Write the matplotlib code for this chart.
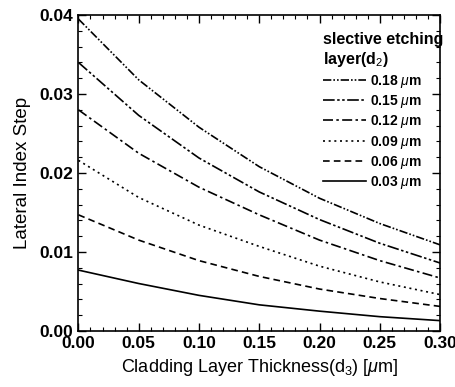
import matplotlib
matplotlib.use("Agg")
import matplotlib.pyplot as plt
from matplotlib.ticker import MultipleLocator

plt.rcParams["font.family"] = ["Liberation Sans", "DejaVu Sans"]
plt.rcParams["mathtext.fontset"] = "custom"
plt.rcParams["mathtext.rm"] = "Liberation Sans"
plt.rcParams["mathtext.it"] = "Liberation Sans:italic"

# Dados
x = [0.00, 0.05, 0.10, 0.15, 0.20, 0.25, 0.30]
d2_labels = ["0.18", "0.15", "0.12", "0.09", "0.06", "0.03"]
y_018 = [0.0395, 0.0318, 0.0258, 0.0208, 0.0168, 0.0136, 0.0109]
y_015 = [0.0340, 0.0273, 0.0219, 0.0176, 0.0141, 0.0111, 0.0086]
y_012 = [0.0280, 0.0225, 0.0182, 0.0147, 0.0115, 0.0089, 0.0067]
y_009 = [0.0216, 0.0169, 0.0134, 0.0107, 0.0082, 0.0062, 0.0046]
y_006 = [0.0147, 0.0115, 0.0089, 0.0069, 0.0053, 0.0041, 0.0031]
y_003 = [0.0077, 0.0060, 0.0045, 0.0033, 0.0025, 0.0018, 0.0013]
series = [y_018, y_015, y_012, y_009, y_006, y_003]

estilos = [
    (0, (5, 1.2, 1, 1.2, 1, 1.2)),
    (0, (7, 1.5, 1.5, 1.5, 1.5, 1.5)),
    (0, (6, 2, 1.5, 2)),
    (0, (1.2, 2.2)),
    (0, (4, 2.5)),
    "-",
]

fig = plt.figure(figsize=(4.56, 3.87), dpi=100)
ax = fig.add_axes([0.172, 0.145, 0.793, 0.816])

for yv, lab, ls in zip(series, d2_labels, estilos):
    ax.plot(x, yv, color="black", lw=1.2, linestyle=ls,
            label=lab + r" $\mu$m")

ax.set_xlim(0, 0.30)
ax.set_ylim(0, 0.04)
ax.xaxis.set_major_locator(MultipleLocator(0.05))
ax.xaxis.set_minor_locator(MultipleLocator(0.01))
ax.yaxis.set_major_locator(MultipleLocator(0.01))
ax.yaxis.set_minor_locator(MultipleLocator(0.002))
ax.xaxis.set_major_formatter(plt.FuncFormatter(lambda v, p: f"{v:.2f}"))
ax.yaxis.set_major_formatter(plt.FuncFormatter(lambda v, p: f"{v:.2f}"))
ax.tick_params(which="both", direction="in", top=True, right=True,
               labelsize=12.5)
ax.tick_params(which="major", length=6, width=1, pad=4)
ax.tick_params(which="minor", length=3, width=0.8)
for lbl in ax.get_xticklabels() + ax.get_yticklabels():
    lbl.set_fontweight("bold")
for s in ax.spines.values():
    s.set_linewidth(1.2)

ax.set_xlabel(r"Cladding Layer Thickness(d$_3$) [$\mu$m]", fontsize=13,
              labelpad=4)
ax.set_ylabel("Lateral Index Step", fontsize=13.5, labelpad=6)

leg = ax.legend(title="slective etching\nlayer(d$_2$)", loc="upper left",
                bbox_to_anchor=(0.677, 0.945), frameon=False,
                fontsize=10, title_fontsize=11.5,
                handlelength=3.1, labelspacing=0.24, borderaxespad=0,
                borderpad=0, handletextpad=0.3)
leg._legend_box.align = "left"
leg.get_title().set_fontweight("bold")
for t in leg.get_texts():
    t.set_fontweight("bold")

fig.savefig("out.png", dpi=100)
